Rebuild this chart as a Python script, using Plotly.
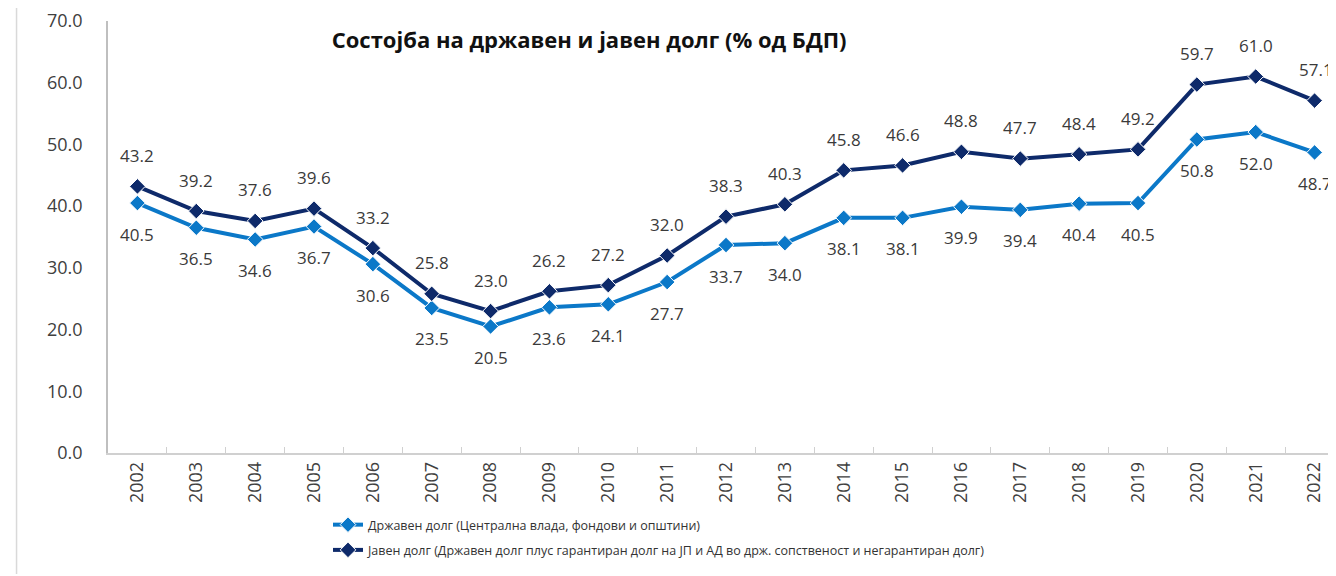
import plotly.graph_objects as go

years = [str(y) for y in range(2002, 2023)]
public_debt = [43.2, 39.2, 37.6, 39.6, 33.2, 25.8, 23.0, 26.2, 27.2, 32.0, 38.3,
               40.3, 45.8, 46.6, 48.8, 47.7, 48.4, 49.2, 59.7, 61.0, 57.1]
state_debt = [40.5, 36.5, 34.6, 36.7, 30.6, 23.5, 20.5, 23.6, 24.1, 27.7, 33.7,
              34.0, 38.1, 38.1, 39.9, 39.4, 40.4, 40.5, 50.8, 52.0, 48.7]
name_state = "Државен долг (Централна влада, фондови и општини)"
name_public = "Јавен долг (Државен долг плус гарантиран долг на ЈП и АД во држ. сопственост и негарантиран долг)"
title = "Состојба на државен и јавен долг (% од БДП)"

LIGHT = "#0B78C8"
DARK = "#0E2A6A"
FONT = "Open Sans"

fig = go.Figure()
fig.add_trace(go.Scatter(
    x=years, y=state_debt, name=name_state, mode="lines+markers",
    line=dict(color=LIGHT, width=4),
    marker=dict(symbol="diamond", size=12, color=LIGHT, line=dict(color="white", width=1)),
    legendgroup="a",
))
fig.add_trace(go.Scatter(
    x=years, y=public_debt, name=name_public, mode="lines+markers",
    line=dict(color=DARK, width=4),
    marker=dict(symbol="diamond", size=12, color=DARK, line=dict(color="white", width=1)),
    legendgroup="b",
))

n = len(years)
for i, v in enumerate(public_debt):
    fig.add_annotation(x=i, y=v, xref="x", yref="y", text=f"{v:.1f}", showarrow=False,
                       yshift=31, xshift=1 if i == n - 1 else 0,
                       font=dict(family=FONT, size=17, color="#3A3A3A"))
for i, v in enumerate(state_debt):
    fig.add_annotation(x=i, y=v, xref="x", yref="y", text=f"{v:.1f}", showarrow=False,
                       yshift=-31,
                       font=dict(family=FONT, size=17, color="#3A3A3A"))

fig.add_shape(type="line", xref="paper", yref="paper", x0=-0.074, x1=-0.074,
              y0=1.03, y1=-0.28, line=dict(color="#D9D9D9", width=1.5))

fig.update_layout(
    width=1336, height=576,
    paper_bgcolor="white", plot_bgcolor="white",
    margin=dict(l=100, r=0, t=13, b=131),
    title=dict(text=f"<b>{title}</b>", x=0.435, xanchor="center", y=0.944, yanchor="middle",
               font=dict(family=FONT, size=22, color="#111111")),
    font=dict(family=FONT, color="#404040"),
    showlegend=True,
    legend=dict(orientation="v", x=0.178, xanchor="left", y=-0.132, yanchor="top",
                font=dict(family=FONT, size=12.5, color="#333333"), tracegroupgap=6,
                bgcolor="rgba(0,0,0,0)"),
    xaxis=dict(type="category", range=[-0.5, 20.5], tickangle=-90,
               tickfont=dict(family=FONT, size=18, color="#404040"),
               showline=True, linecolor="#D0D0D0", linewidth=1.5,
               ticks="inside", tickson="boundaries", ticklen=6, tickcolor="#D0D0D0",
               showgrid=False, automargin=False),
    yaxis=dict(range=[0, 70], dtick=10, tickformat=".1f",
               tickfont=dict(family=FONT, size=18, color="#404040"),
               showline=True, linecolor="#BFBFBF", linewidth=1.5,
               showgrid=False, zeroline=False, ticks="", ticklabelstandoff=20,
               automargin=False),
)

fig.write_html("out.html")
